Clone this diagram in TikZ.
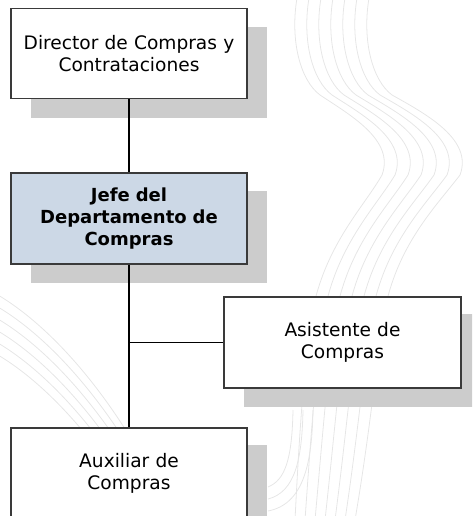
\documentclass[tikz,border=0pt]{standalone}
\usepackage{fontspec}
\setmainfont{DejaVu Sans}
\definecolor{shadowgray}{HTML}{CCCCCC}
\definecolor{boxblue}{HTML}{CCD8E6}
\definecolor{boxedge}{HTML}{3A3A3A}
\definecolor{wmark}{HTML}{E6E6E6}
\begin{document}
\begin{tikzpicture}[x=1pt,y=-1pt,
  orgbox/.style={draw=boxedge, line width=1.3pt, fill=white, minimum width=236pt,
    minimum height=90pt, inner sep=0pt, align=center, text width=225pt,
    font=\fontsize{18.6}{22}\selectfont},
  headbox/.style={orgbox, fill=boxblue, font=\fontsize{18}{22}\selectfont\bfseries},
  shadowfill/.style={fill=shadowgray},
  link/.style={draw=black, line width=1.5pt},
  wm/.style={draw=wmark, line width=0.8pt}]
\useasboundingbox (0,0) rectangle (472,516);
\clip (0,0) rectangle (472,516);
% watermark lines
\foreach \k in {0,...,6}{
  \draw[wm] ({297+12*\k},-2) .. controls ({290+12*\k},40) and ({300+12*\k},80) .. ({320+12*\k},95)
    .. controls ({350+13*\k},115) and ({395+13*\k},140) .. ({382+13*\k},175)
    .. controls ({365+12*\k},205) and ({330+12*\k},240) .. ({315+12*\k},300)
    .. controls ({305+12*\k},350) and ({300+12*\k},420) .. ({295+10*\k},520);
}
\foreach \k in {0,...,5}{
  \draw[wm] (-2,{295+12*\k}) .. controls (40,{320+12*\k}) and (90,{370+12*\k}) .. (135,{445+12*\k});
}
\foreach \k in {0,...,2}{
  \draw[wm] ({268},{487+12*\k}) .. controls ({285+10*\k},{480+12*\k}) and ({292+10*\k},{460}) .. ({293+10*\k},410);
}
% shadows
\fill[shadowfill] (31,27) rectangle (267,118);
\fill[shadowfill] (31,191) rectangle (267,283);
\fill[shadowfill] (244,314) rectangle (481,407);
\fill[shadowfill] (31,445) rectangle (267,540);
% boxes
\node[orgbox] (dir) at (129,53.5) {Director de Compras y\\Contrataciones};
\node[headbox, minimum height=91pt] (jefe) at (129,218.5) {Jefe del\\Departamento de\\Compras};
\node[orgbox, minimum width=237pt, minimum height=91pt] (asis) at (342.5,342.5) {Asistente de\\Compras};
\node[orgbox] (aux) at (129,473) {Auxiliar de\\Compras};
% connectors
\coordinate (branch) at (jefe.south |- asis.west);
\draw[link] (dir.south) -- (jefe.north);
\draw[link] (jefe.south) -- (aux.north);
\draw[link] (branch) -- (asis.west);
\end{tikzpicture}
\end{document}
